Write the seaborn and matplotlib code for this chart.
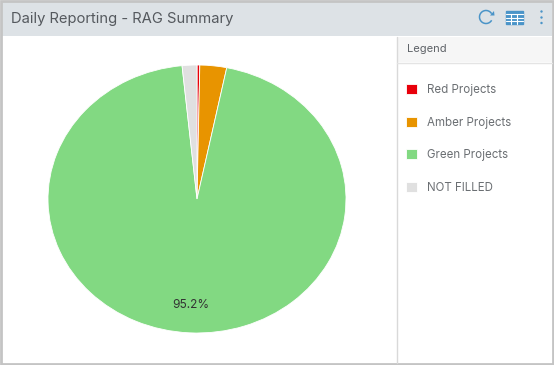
import seaborn as sns
import matplotlib.pyplot as plt
from matplotlib.patches import Rectangle, Arc, Circle

# values
labels = ["Red Projects", "Amber Projects", "Green Projects", "NOT FILLED"]
shares = [0.3, 2.9, 95.2, 1.6]
colors = ["#e8000b", "#e89400", "#82d982", "#e0e0e0"]

W, H = 554, 365

sns.set_theme(style="white")
plt.rcParams["font.family"] = ["Inter", "DejaVu Sans"]
palette = sns.color_palette(colors)

fig = plt.figure(figsize=(W / 100, H / 100), dpi=100, facecolor="white")

# panel chrome in pixel coordinates
bg = fig.add_axes([0, 0, 1, 1])
bg.set_xlim(0, W)
bg.set_ylim(H, 0)
bg.axis("off")
bg.add_patch(Rectangle((2, 2), 550, 34, fc="#dde2e6", ec="none"))
bg.add_patch(Rectangle((397, 37), 155, 25, fc="#f6f6f6", ec="none"))
bg.plot([396.5, 396.5], [37, 363], color="#d9d9d9", lw=1)
bg.plot([397, 552], [62.5, 62.5], color="#e4e4e4", lw=1)
bg.add_patch(Rectangle((1, 1), 552, 362.5, fc="none", ec="#c4c4c4", lw=2))
bg.text(11, 19, "Daily Reporting - RAG Summary", fontsize=10.65, color="#55595e", va="center")
bg.text(407, 49.5, "Legend", fontsize=8, color="#5f6368", va="center")

# header icons
blue = "#4a94c8"
bg.add_patch(Arc((486, 17), 13, 13, theta1=-330, theta2=-30, color=blue, lw=1.1))
bg.fill([490, 494.5, 494], [15.5, 15.5, 11], color=blue, lw=0)
bg.add_patch(Rectangle((505.5, 10.5), 17, 13, fc=blue, ec=blue, lw=1))
for x in [511, 517]:
    bg.plot([x, x], [13.5, 23.5], color="white", lw=0.8)
for y in [14, 17.5, 21]:
    bg.plot([505.5, 522.5], [y, y], color="white", lw=0.8)
for y in [11.5, 17.5, 23]:
    bg.add_patch(Circle((541.5, y), 1.2, fc=blue, ec="none"))

# pie, stretched to the ellipse of the panel
cx, cy, rx, ry = 197, 199, 149, 134
ax = fig.add_axes([(cx - rx) / W, 1 - (cy + ry) / H, 2 * rx / W, 2 * ry / H])
wedges, _, autotexts = ax.pie(
    shares,
    colors=palette,
    startangle=90,
    counterclock=False,
    autopct=lambda p: f"{p:.1f}%" if p > 5 else "",
    pctdistance=0.79,
    wedgeprops={"edgecolor": "white", "linewidth": 0.6},
    textprops={"fontsize": 8.6, "color": "#333333"},
)
ax.set_aspect("auto")
ax.set_xlim(-1, 1)
ax.set_ylim(-1, 1)

fig.legend(
    wedges,
    labels,
    loc="upper left",
    bbox_to_anchor=(396 / W, 1 - 74 / H),
    frameon=False,
    fontsize=8.3,
    labelcolor="#6b6f73",
    labelspacing=1.78,
    handlelength=0.9,
    handleheight=0.95,
    handletextpad=0.85,
)

fig.savefig("out.png", dpi=100)
